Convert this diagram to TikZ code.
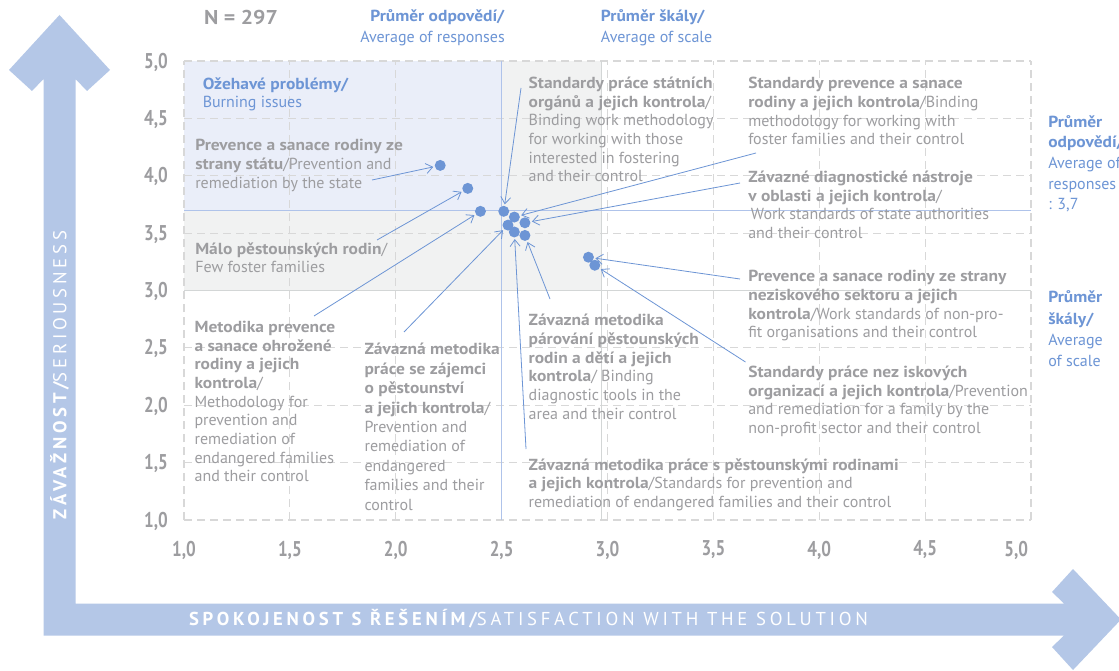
\documentclass[tikz,border=0pt]{standalone}
\usepackage{fontspec}
\setmainfont{PT Sans}[BoldFeatures={FakeStretch=1.09}]
\newfontfamily\narrowfont[FakeStretch=0.8]{PT Sans}
\newfontfamily\titlefont[LetterSpace=20]{PT Sans}
\usetikzlibrary{arrows.meta}

\definecolor{axisblue}{HTML}{B4C7E7}
\definecolor{ptblue}{HTML}{6D95D5}
\definecolor{txtgrey}{HTML}{9D9DA0}
\definecolor{gridgrey}{HTML}{D8D8D8}
\definecolor{hotfill}{HTML}{EAEEF9}
\definecolor{midfill}{HTML}{F1F2F2}
\definecolor{meanblue}{HTML}{AFC3EA}
\definecolor{meangrey}{HTML}{D3D6D6}

\begin{document}
\begin{tikzpicture}[x=0.75pt,y=-0.75pt,
  lbl/.style={anchor=north west,inner sep=0,align=left,text=txtgrey,yshift=-3.4pt,
    font=\fontsize{12}{14}\selectfont},
  note/.style={lbl,text=ptblue},
  dot/.style={circle,fill=ptblue,inner sep=0,minimum size=8.25pt},
  pointer/.style={ptblue,line width=0.6pt,
    -{Straight Barb[length=5pt,width=7.5pt]},shorten >=1pt},
  gridline/.style={gridgrey,line width=0.8pt,dash pattern=on 6pt off 3.75pt},
  tick/.style={text=txtgrey,inner sep=0,
    font=\narrowfont\bfseries\fontsize{16}{18}\selectfont},
  axistitle/.style={text=white,inner sep=0,font=\titlefont\fontsize{14}{16}\selectfont}]

  \useasboundingbox (0,0) rectangle (1119,670);
  \clip (0,0) rectangle (1119,670);
  \fill[white] (0,0) rectangle (1119,670);

  %--- big axis arrows ---
  \fill[axisblue] (43.5,79) -- (32,91) -- (9,70) -- (59.5,15) -- (110,70) -- (87,91)
    -- (75.5,79) -- (75.5,603.5) -- (1064,603.5) -- (1052,592) -- (1073,569)
    -- (1121,619.5) -- (1073,670) -- (1052,647) -- (1064,635.5) -- (43.5,635.5) -- cycle;
  \node[axistitle,rotate=90] (ytitle) at (59.5,375) {\bfseries ZÁVAŽNOST/\mdseries SERIOUSNESS};
  \node[axistitle] (xtitle) at (528.5,619) {\bfseries SPOKOJENOST S ŘEŠENÍM/\mdseries SATISFACTION WITH THE SOLUTION};

  %--- plot in data units ---
  \begin{scope}[shift={(-27.75,634.75)},x=158.8125pt,y=86.0625pt]
    \fill[hotfill] (1,3.7) rectangle (2.5,5);
    \fill[midfill] (1,3) rectangle (2.97,3.7);
    \fill[midfill] (2.5,3.7) rectangle (2.97,5);

    \foreach \v in {1,1.5,...,5} {
      \draw[gridline] (\v,1) -- (\v,5);
      \draw[gridline] (1,\v) -- (5,\v);
    }

    %--- averages ---
    \draw[meangrey,line width=0.9pt] (1,3) -- (5,3);
    \draw[meangrey,line width=0.9pt] (2.97,1) -- (2.97,5);
    \draw[meanblue,line width=0.9pt] (1,3.7) -- (5,3.7);
    \draw[meanblue,line width=0.9pt] (2.5,1) -- (2.5,5);

    %--- ticks ---
    \foreach \v/\t [count=\i] in {1/{1,0},1.5/{1,5},2/{2,0},2.5/{2,5},3/{3,0},3.5/{3,5},4/{4,0},4.5/{4,5},5/{5,0}}
      \node[tick,anchor=east] (y\i) at ([xshift=-12pt,yshift=-0.75pt]1,\v) {\t};
    \foreach \v/\t [count=\i] in {1/{1,0},1.5/{1,5},2/{2,0},2.5/{2,5},3/{3,0},3.5/{3,5},4/{4,0},4.5/{4,5},4.93/{5,0}}
      \node[tick] (x\i) at ([yshift=-22.5pt]\v,1) {\t};

    %--- answers ---
    \node[dot] (dstate) at (2.21,4.09) {};
    \node[dot] (dfew) at (2.34,3.89) {};
    \node[dot] (dmethod) at (2.40,3.69) {};
    \node[dot] (dauth) at (2.51,3.69) {};
    \node[dot] (dseek) at (2.53,3.57) {};
    \node[dot] (dfost) at (2.56,3.51) {};
    \node[dot] (dsan) at (2.56,3.64) {};
    \node[dot] (dmatch) at (2.61,3.48) {};
    \node[dot] (ddiag) at (2.61,3.59) {};
    \node[dot] (dnp) at (2.91,3.29) {};
    \node[dot] (dnpw) at (2.94,3.22) {};
  \end{scope}

  %--- headers ---
  \node[text=txtgrey,font=\bfseries\fontsize{15}{16}\selectfont] (n) at (241,17.5) {N = 297};
  \node[note,anchor=north east,align=right,font=\fontsize{12}{15.75}\selectfont] (avgresp) at (505,4.5)
    {\textbf{Průměr odpovědí/}\\Average of responses};
  \node[note,font=\fontsize{12}{15.75}\selectfont] (avgscale) at (600.7,4.5)
    {\textbf{Průměr škály/}\\Average of scale};
  \node[note,font=\fontsize{12}{15.5}\selectfont] (respright) at (1048,110.5)
    {\textbf{Průměr}\\\textbf{odpovědí/}\\Average of\\responses\\: 3,7};
  \node[note,font=\fontsize{12}{16}\selectfont] (scaleright) at (1048,286)
    {\textbf{Průměr}\\\textbf{škály/}\\Average\\of scale};
  \node[note,font=\fontsize{12}{13.5}\selectfont] (hot) at (202.5,72.5)
    {\textbf{Ožehavé problémy/}\\Burning issues};

  %--- labels ---
  \node[lbl] (state) at (195,134.5) {\textbf{Prevence a sanace rodiny ze}\\
    \textbf{strany státu}/Prevention and\\remediation by the state};
  \node[lbl] (few) at (195,237.5) {\textbf{Málo pěstounských rodin}/\\Few foster families};
  \node[lbl] (method) at (194.3,316.2) {\textbf{Metodika prevence}\\\textbf{a sanace ohrožené}\\
    \textbf{rodiny a jejich}\\\textbf{kontrola}/\\Methodology for\\prevention and\\
    remediation of\\endangered families\\and their control};
  \node[lbl,font=\fontsize{12}{14.55}\selectfont] (seek) at (364.3,338.5) {\textbf{Závazná metodika}\\
    \textbf{práce se zájemci}\\\textbf{o pěstounství}\\\textbf{a jejich kontrola}/\\
    Prevention and\\remediation of\\endangered\\families and their\\control};
  \node[lbl] (auth) at (528.4,72.2) {\textbf{Standardy práce státních}\\
    \textbf{orgánů a jejich kontrola}/\\Binding work methodology\\for working with those\\
    interested in fostering\\and their control};
  \node[lbl] (san) at (748,72.5) {\textbf{Standardy prevence a sanace}\\
    \textbf{rodiny a jejich kontrola}/Binding\\methodology for working with\\
    foster families and their control};
  \node[lbl] (diag) at (748,166.2) {\textbf{Závazné diagnostické nástroje}\\
    \textbf{v oblasti a jejich kontrola}/\\\hspace{2pt}Work standards of state authorities\\
    and their control};
  \node[lbl] (np) at (748,265.5) {\textbf{Prevence a sanace rodiny ze strany}\\
    \textbf{neziskového sektoru a jejich}\\\textbf{kontrola}/Work standards of non-pro-\\
    fit organisations and their control};
  \node[lbl] (npw) at (748,361.2) {\textbf{Standardy práce nez iskových}\\
    \textbf{organizací a jejich kontrola}/Prevention\\and remediation for a family by the\\
    non-profit sector and their control};
  \node[lbl] (match) at (528.4,309.5) {\textbf{Závazná metodika}\\\textbf{párování pěstounských}\\
    \textbf{rodin a dětí a jejich}\\\textbf{kontrola}/ Binding\\diagnostic tools in the\\
    area and their control};
  \node[lbl] (fost) at (528.4,453.5) {\textbf{Závazná metodika práce s pěstounskými rodinami}\\
    \textbf{a jejich kontrola}/Standards for prevention and\\
    remediation of endangered families and their control};

  %--- pointers from labels to answers ---
  \coordinate (tstate) at (372,180);
  \coordinate (tfew) at (377,240);
  \coordinate (tmethod) at (314,316);
  \coordinate (tseek) at (404,332);
  \coordinate (tauth) at (521,88);
  \coordinate (tsan) at (756,153);
  \coordinate (tdiag) at (740,183);
  \coordinate (tnp) at (740,279);
  \coordinate (tnpw) at (745.5,362);
  \coordinate (tmatch) at (550,299);
  \coordinate (tfost) at (526,449);
  \foreach \a in {state,few,method,seek,auth,san,diag,np,npw,match,fost}
    \draw[pointer] (t\a) -- (d\a);

\end{tikzpicture}
\end{document}
